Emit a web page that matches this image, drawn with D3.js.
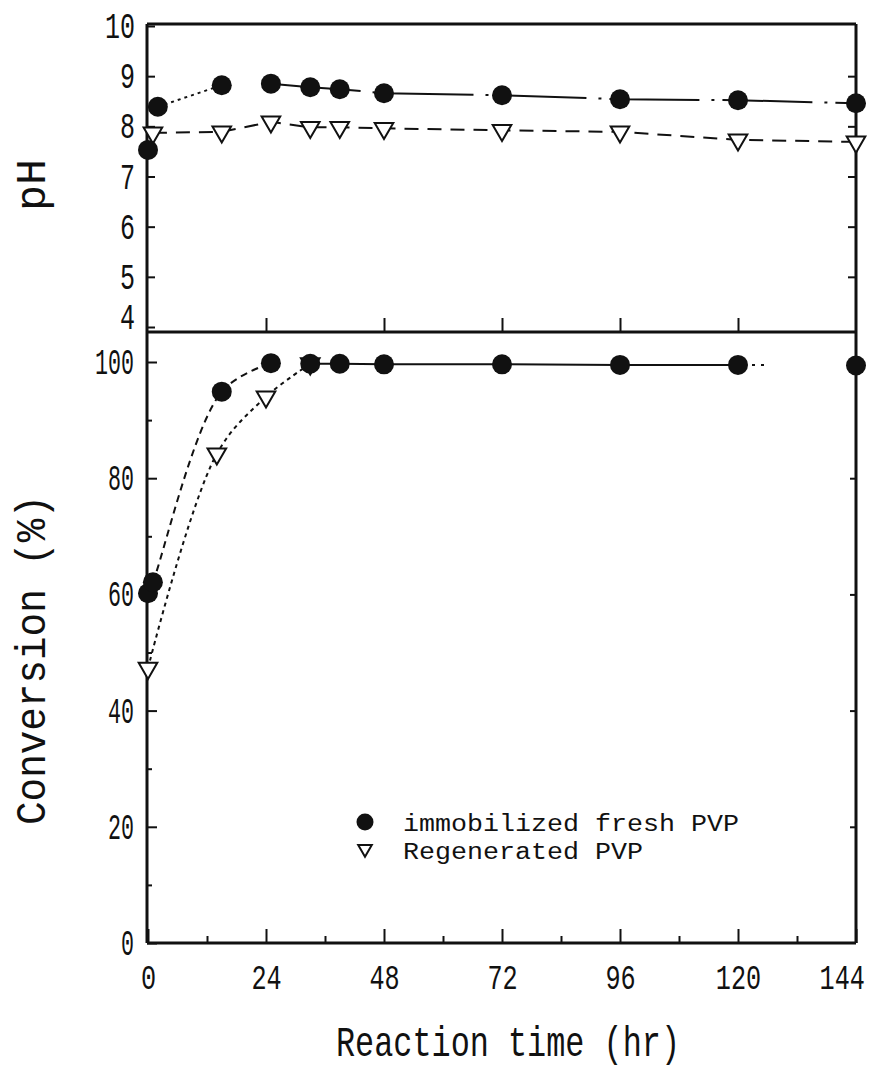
<!DOCTYPE html>
<html>
<head>
<meta charset="utf-8">
<script src="https://cdn.jsdelivr.net/npm/d3@7"></script>
<style>
  body { margin: 0; background: #fff; }
  text { font-family: "Liberation Mono", "DejaVu Sans Mono", monospace; fill: #111; }
</style>
</head>
<body>
<div id="chart"></div>
<script>
// pH panel
const phFreshHours = [0, 2, 15, 25, 33, 39, 48, 72, 96, 120, 144];
const phFresh = [7.53, 8.39, 8.82, 8.85, 8.78, 8.74, 8.66, 8.62, 8.54, 8.52, 8.46];
const phRegenHours = [1, 15, 25, 33, 39, 48, 72, 96, 120, 144];
const phRegen = [7.87, 7.89, 8.09, 7.98, 7.98, 7.96, 7.92, 7.89, 7.73, 7.69];

// conversion panel
const convFreshHours = [0, 1, 15, 25, 33, 39, 48, 72, 96, 120, 144];
const convFresh = [60.2, 62.1, 94.9, 99.8, 99.7, 99.7, 99.6, 99.6, 99.5, 99.5, 99.4];
const convRegenHours = [0, 14, 24, 33];
const convRegen = [47.3, 84.2, 94.0, 99.7];

const hourTicks = [0, 24, 48, 72, 96, 120, 144];
const hourMinor = [12, 36, 60, 84, 108, 132];
const phTicks = [4, 5, 6, 7, 8, 9, 10];
const convTicks = [0, 20, 40, 60, 80, 100];
const convMinor = [10, 30, 50, 70, 90];

const legendLabels = ["immobilized fresh PVP", "Regenerated PVP"];

(function () {
  const width = 877, height = 1070;
  const left = 147, right = 856, top = 24, mid = 332, bottom = 943;

  const svg = d3.select("#chart").append("svg")
    .attr("width", width)
    .attr("height", height);

  const x = d3.scaleLinear().domain([0, 144]).range([148, 856]);
  const yPh = d3.scaleLinear().domain([4, 10]).range([327, 26]);
  const yConv = d3.scaleLinear().domain([0, 100]).range([943, 362]);

  const zip = (xs, ys) => xs.map((t, i) => [t, ys[i]]);
  const phF = zip(phFreshHours, phFresh);
  const phR = zip(phRegenHours, phRegen);
  const cvF = zip(convFreshHours, convFresh);
  const cvR = zip(convRegenHours, convRegen);

  // squeeze tick text to the narrow, tall type of the original
  function squeeze(sel, perChar) {
    sel.selectAll(".tick text").each(function () {
      const t = d3.select(this);
      t.attr("textLength", t.text().length * perChar).attr("lengthAdjust", "spacingAndGlyphs");
    });
  }
  function clean(g) {
    g.select(".domain").remove();
    g.selectAll(".tick line").attr("stroke", "#111").attr("stroke-width", 2);
    g.selectAll(".tick text").style("font-size", "36px").attr("fill", "#111");
  }

  // axes
  svg.append("g").attr("transform", `translate(${left},0)`)
    .call(d3.axisLeft(yPh).tickValues(phTicks).tickFormat(d3.format("d")).tickSize(-8).tickPadding(12))
    .call(clean).call(g => squeeze(g, 15))
    .call(g => g.selectAll(".tick text").filter(d => d === 4).attr("y", -10));
  svg.append("g").attr("transform", `translate(${right},0)`)
    .call(d3.axisRight(yPh).tickValues(phTicks.slice(1, -1)).tickSize(-8).tickFormat(""))
    .call(clean);

  svg.append("g").attr("transform", `translate(${left},0)`)
    .call(d3.axisLeft(yConv).tickValues(convTicks).tickSize(-10).tickPadding(13))
    .call(clean).call(g => squeeze(g, 13));
  svg.append("g").attr("transform", `translate(${left},0)`)
    .call(d3.axisLeft(yConv).tickValues(convMinor).tickSize(-5).tickFormat(""))
    .call(clean);
  svg.append("g").attr("transform", `translate(${right},0)`)
    .call(d3.axisRight(yConv).tickValues(convTicks.slice(1)).tickSize(-6).tickFormat(""))
    .call(clean);

  svg.append("g").attr("transform", `translate(0,${bottom})`)
    .call(d3.axisBottom(x).tickValues(hourTicks).tickSize(-14).tickPadding(20))
    .call(clean)
    .call(g => g.selectAll(".tick text").attr("transform", "scale(0.7,1)"))
    .call(g => g.selectAll(".tick text").filter(d => d === 144)
      .attr("text-anchor", "end").attr("x", 12));
  svg.append("g").attr("transform", `translate(0,${bottom})`)
    .call(d3.axisBottom(x).tickValues(hourMinor).tickSize(-7).tickFormat(""))
    .call(clean);
  svg.append("g").attr("transform", `translate(0,${mid})`)
    .call(d3.axisBottom(x).tickValues(hourTicks.slice(1, -1)).tickSize(-14).tickFormat(""))
    .call(clean);

  // frame
  const frame = svg.append("g").attr("stroke", "#111").attr("stroke-width", 3);
  frame.append("line").attr("x1", left).attr("x2", left).attr("y1", top).attr("y2", bottom);
  frame.append("line").attr("x1", right).attr("x2", right).attr("y1", top).attr("y2", bottom);
  frame.append("line").attr("x1", left).attr("x2", right).attr("y1", top).attr("y2", top);
  frame.append("line").attr("x1", left).attr("x2", right).attr("y1", mid).attr("y2", mid);
  frame.append("line").attr("x1", left).attr("x2", right).attr("y1", bottom).attr("y2", bottom);

  // lines
  const phLine = d3.line().x(d => x(d[0])).y(d => yPh(d[1]));
  const cvLine = d3.line().x(d => x(d[0])).y(d => yConv(d[1]));
  const cvCurve = d3.line().x(d => x(d[0])).y(d => yConv(d[1])).curve(d3.curveCatmullRom.alpha(0.5));

  const lines = svg.append("g").attr("fill", "none").attr("stroke", "#111").attr("stroke-width", 2);
  lines.append("path").attr("d", phLine(phF.slice(1, 3))).attr("stroke-dasharray", "3 4");
  lines.append("path").attr("d", phLine(phF.slice(3))).attr("stroke-dasharray", "90 12 3 8");
  lines.append("path").attr("d", phLine(phR)).attr("stroke-dasharray", "14 9");

  lines.append("path").attr("d", cvCurve(cvF.slice(0, 4))).attr("stroke-dasharray", "7 5");
  lines.append("path").attr("d", cvLine(cvF.slice(4, 10)));
  lines.append("path").attr("d", cvLine(cvF.slice(9))).attr("stroke-dasharray", "0 14 3 6 3 400");
  lines.append("path").attr("d", cvCurve(cvR)).attr("stroke-dasharray", "4 4");

  // markers
  const tri = d3.symbol().type(d3.symbolTriangle).size(150);
  function triangles(data, y) {
    svg.append("g").selectAll("path").data(data).join("path")
      .attr("d", tri)
      .attr("transform", d => `translate(${x(d[0])},${y(d[1])}) rotate(180)`)
      .attr("fill", "#fff").attr("stroke", "#111").attr("stroke-width", 2);
  }
  function dots(data, y) {
    svg.append("g").selectAll("circle").data(data).join("circle")
      .attr("cx", d => x(d[0])).attr("cy", d => y(d[1])).attr("r", 10)
      .attr("fill", "#111");
  }
  triangles(phR, yPh);
  dots(phF, yPh);
  triangles(cvR, yConv);
  dots(cvF, yConv);

  // legend
  const lg = svg.append("g").attr("transform", "translate(365,822)");
  lg.append("circle").attr("r", 8.5).attr("fill", "#111");
  lg.append("path").attr("d", d3.symbol().type(d3.symbolTriangle).size(80))
    .attr("transform", "translate(0,27) rotate(180)")
    .attr("fill", "#fff").attr("stroke", "#111").attr("stroke-width", 2);
  lg.selectAll("text").data(legendLabels).join("text")
    .attr("x", 38).attr("y", (d, i) => 9 + i * 28)
    .attr("textLength", d => d.length * 16).attr("lengthAdjust", "spacingAndGlyphs")
    .style("font-size", "23px")
    .text(d => d);

  // axis titles
  svg.append("text")
    .attr("transform", "translate(45,185) rotate(-90)")
    .attr("text-anchor", "middle")
    .attr("textLength", 52).attr("lengthAdjust", "spacingAndGlyphs")
    .style("font-size", "42px")
    .text("pH");
  svg.append("text")
    .attr("transform", "translate(45,660) rotate(-90)")
    .attr("text-anchor", "middle")
    .attr("textLength", 330).attr("lengthAdjust", "spacingAndGlyphs")
    .style("font-size", "42px")
    .text("Conversion (%)");
  svg.append("text")
    .attr("x", 508).attr("y", 1056)
    .attr("text-anchor", "middle")
    .attr("textLength", 344).attr("lengthAdjust", "spacingAndGlyphs")
    .style("font-size", "42px")
    .text("Reaction time (hr)");
})();
</script>
</body>
</html>
